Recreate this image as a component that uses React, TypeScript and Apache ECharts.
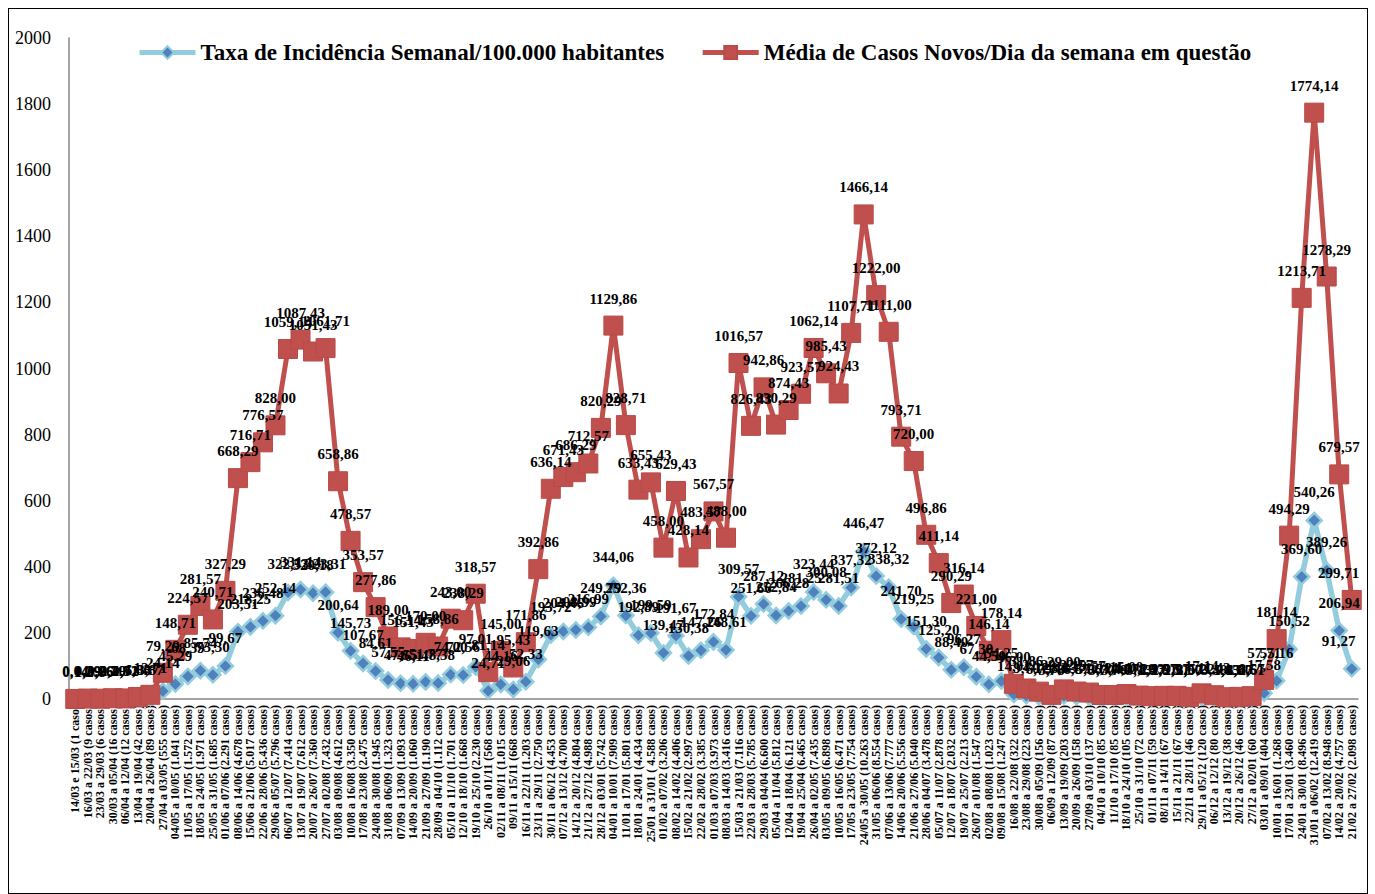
import React, { useEffect, useRef } from "react";
import * as echarts from "echarts";

const categorias: string[] = [
  "14/03 e 15/03 (1 caso)", "16/03 a 22/03 (9 casos)", "23/03 a 29/03 (6 casos)", "30/03 a 05/04 (16 casos)",
  "06/04 a 12/04 (12 casos)", "13/04 a 19/04 (42 casos)", "20/04 a 26/04 (89 casos)", "27/04 a 03/05 (555 casos)",
  "04/05 a 10/05 (1.041 casos)", "11/05 a 17/05 (1.572 casos)", "18/05 a 24/05 (1.971 casos)", "25/05 a 31/05 (1.685 casos)",
  "01/06 a 07/06 (2.291 casos)", "08/06 a 14/06 (4.678 casos)", "15/06 a 21/06 (5.017 casos)", "22/06 a 28/06 (5.436 casos)",
  "29/06 a 05/07 (5.796 casos)", "06/07 a 12/07 (7.414 casos)", "13/07 a 19/07 (7.612 casos)", "20/07 a 26/07 (7.360 casos)",
  "27/07 a 02/08 (7.432 casos)", "03/08 a 09/08 (4.612 casos)", "10/08 a 16/08 (3.350 casos)", "17/08 a 23/08 (2.475 casos)",
  "24/08 a 30/08 (1.945 casos)", "31/08 a 06/09 (1.323 casos)", "07/09 a 13/09 (1.093 casos)", "14/09 a 20/09 (1.060 casos)",
  "21/09 a 27/09 (1.190 casos)", "28/09 a 04/10 (1.112 casos)", "05/10 a 11/10 (1.701 casos)", "12/10 a 18/10 (1.668 casos)",
  "19/10 a 25/10 (2.230 casos)", "26/10 a 01/11 (568 casos)", "02/11 a 08/11 (1.015 casos)", "09/11 a 15/11 (668 casos)",
  "16/11 a 22/11 (1.203 casos)", "23/11 a 29/11 (2.750 casos)", "30/11 a 06/12 (4.453 casos)", "07/12 a 13/12 (4.700 casos)",
  "14/12 a 20/12 (4.804 casos)", "21/12 a 27/12 (4.988 casos)", "28/12 a 03/01 (5.742 casos)", "04/01 a 10/01 (7.909 casos)",
  "11/01 a 17/01 (5.801 casos)", "18/01 a 24/01 (4.434 casos)", "25/01 a 31/01 ( 4.588 casos)", "01/02 a 07/02 (3.206 casos)",
  "08/02 a 14/02 (4.406 casos)", "15/02 a 21/02 (2.997 casos)", "22/02 a 28/02 (3.385 casos)", "01/03 a 07/03 (3.973 casos)",
  "08/03 a 14/03 (3.416 casos)", "15/03 a 21/03 (7.116 casos)", "22/03 a 28/03 (5.785 casos)", "29/03 a 04/04 (6.600 casos)",
  "05/04 a 11/04 (5.812 casos)", "12/04 a 18/04 (6.121 casos)", "19/04 a 25/04 (6.465 casos)", "26/04 a 02/05 (7.435 casos)",
  "03/05 a 09/05 (6.898 casos)", "10/05 a 16/05 (6.471 casos)", "17/05 a 23/05 (7.754 casos)", "24/05 a 30/05 (10.263 casos)",
  "31/05 a 06/06 (8.554 casos)", "07/06 a 13/06 (7.777 casos)", "14/06 a 20/06 (5.556 casos)", "21/06 a 27/06 (5.040 casos)",
  "28/06 a 04/07 (3.478 casos)", "05/07 a 11/07 (2.878 casos)", "12/07 a 18/07 (2.032 casos)", "19/07 a 25/07 (2.213 casos)",
  "26/07 a 01/08 (1.547 casos)", "02/08 a 08/08 (1.023 casos)", "09/08 a 15/08 (1.247 casos)", "16/08 a 22/08 (322 casos)",
  "23/08 a 29/08 (223 casos)", "30/08 a 05/09 (156 casos)", "06/09 a 12/09 (87 casos)", "13/09 a 19/09 (203 casos)",
  "20/09 a 26/09 (158 casos)", "27/09 a 03/10 (137 casos)", "04/10 a 10/10 (85 casos)", "11/10 a 17/10 (85 casos)",
  "18/10 a 24/10 (105 casos)", "25/10 a 31/10 (72 casos)", "01/11 a 07/11 (59 casos)", "08/11 a 14/11 (67 casos)",
  "15/11 a 21/11 (67 casos)", "22/11 a 28/11 (46 casos)", "29/11 a 05/12 (120 casos)", "06/12 a 12/12 (80 casos)",
  "13/12 a 19/12 (38 casos)", "20/12 a 26/12 (46 casos)", "27/12 a 02/01 (60 casos)", "03/01 a 09/01 (404 casos)",
  "10/01 a 16/01 (1.268 casos)", "17/01 a 23/01 (3.460 casos)", "24/01 a 30/01 (8.496 casos)", "31/01 a 06/02 (12.419 casos)",
  "07/02 a 13/02 (8.948 casos)", "14/02 a 20/02 (4.757 casos)", "21/02 a 27/02 (2.098 casos)",
];

const taxaIncidencia: number[] = [
  0.04, 0.39, 0.26, 0.7, 0.52, 1.83, 3.87, 24.14,
  45.29, 68.39, 85.74, 73.3, 99.67, 203.51, 218.25, 236.48,
  252.14, 322.53, 331.14, 320.18, 323.31, 200.64, 145.73, 107.67,
  84.61, 57.55, 47.55, 46.11, 51.77, 48.38, 74.0, 72.56,
  97.01, 24.71, 44.16, 29.06, 52.33, 119.63, 193.72, 204.46,
  208.99, 216.99, 249.79, 344.06, 252.36, 192.89, 199.59, 139.47,
  191.67, 130.38, 147.26, 172.84, 148.61, 309.57, 251.66, 287.12,
  252.84, 266.28, 281.25, 323.44, 300.08, 281.51, 337.32, 446.47,
  372.12, 338.32, 241.7, 219.25, 151.3, 125.2, 88.4, 96.27,
  67.3, 44.5, 54.25, 14.01, 9.7, 6.79, 3.78, 8.83,
  6.87, 5.96, 3.7, 3.7, 4.57, 3.13, 2.57, 2.91,
  2.91, 2.0, 5.22, 3.48, 1.65, 2.0, 2.61, 17.58,
  55.16, 150.52, 369.6, 540.26, 389.26, 206.94, 91.27,
];

const mediaCasos: number[] = [
  0.14, 1.29, 0.86, 2.29, 1.71, 6.0, 12.71, 79.29,
  148.71, 224.57, 281.57, 240.71, 327.29, 668.29, 716.71, 776.57,
  828.0, 1059.14, 1087.43, 1051.43, 1061.71, 658.86, 478.57, 353.57,
  277.86, 189.0, 156.14, 151.43, 170.0, 158.86, 243.0, 238.29,
  318.57, 81.14, 145.0, 95.43, 171.86, 392.86, 636.14, 671.43,
  686.29, 712.57, 820.29, 1129.86, 828.71, 633.43, 655.43, 458.0,
  629.43, 428.14, 483.57, 567.57, 488.0, 1016.57, 826.43, 942.86,
  830.29, 874.43, 923.57, 1062.14, 985.43, 924.43, 1107.71, 1466.14,
  1222.0, 1111.0, 793.71, 720.0, 496.86, 411.14, 290.29, 316.14,
  221.0, 146.14, 178.14, 46.0, 31.86, 22.29, 12.43, 29.0,
  22.57, 19.57, 12.14, 12.14, 15.0, 10.29, 8.43, 9.57,
  9.57, 6.57, 17.14, 11.43, 5.43, 6.57, 8.57, 57.71,
  181.14, 494.29, 1213.71, 1774.14, 1278.29, 679.57, 299.71,
];

const nomeTaxa = "Taxa de Incidência Semanal/100.000 habitantes";
const nomeMedia = "Média de Casos Novos/Dia da semana em questão";

const FONT = "'Liberation Serif', 'Times New Roman', serif";
const fmt = (p: any) => Number(p.value).toFixed(2).replace(".", ",");

// label data: last point label nudged left so it stays inside the frame
const comRotulos = (vals: number[]) =>
  vals.map((v, i) =>
    i === vals.length - 1 ? { value: v, label: { offset: [-13, 0] } } : v
  );

export default function App() {
  const ref = useRef<HTMLDivElement>(null);
  useEffect(() => {
    if (!ref.current) return;
    const chart = echarts.init(ref.current, undefined, { renderer: "svg" });
    const labelStyle = {
      show: true,
      position: "top" as const,
      formatter: fmt,
      fontFamily: FONT,
      fontWeight: "bold" as const,
      fontSize: 15,
      color: "#000",
    };
    chart.setOption({
      animation: false,
      backgroundColor: "#fff",
      legend: {
        data: [nomeTaxa, nomeMedia],
        left: 123,
        top: 27,
        itemWidth: 56,
        itemHeight: 16,
        itemGap: 36,
        lineStyle: { width: 5 },
        textStyle: { fontFamily: FONT, fontWeight: "bold", fontSize: 23, color: "#000" },
      },
      grid: { left: 60, right: 9, top: 29, bottom: 194, containLabel: false },
      xAxis: {
        type: "category",
        data: categorias,
        boundaryGap: true,
        axisLine: { show: true, lineStyle: { color: "#868686", width: 1.5 } },
        axisTick: { show: false },
        axisLabel: {
          interval: 0,
          rotate: 90,
          margin: 6,
          fontFamily: FONT,
          fontWeight: "bold",
          fontSize: 12,
          color: "#000",
        },
      },
      yAxis: {
        type: "value",
        min: 0,
        max: 2000,
        interval: 200,
        splitLine: { show: false },
        axisLine: { show: true, lineStyle: { color: "#868686", width: 1.5 } },
        axisTick: { show: false },
        axisLabel: {
          margin: 18,
          fontFamily: FONT,
          fontSize: 18,
          color: "#000",
          formatter: (v: number) => String(v),
        },
      },
      series: [
        {
          name: nomeTaxa,
          type: "line",
          data: taxaIncidencia,
          symbol: "diamond",
          symbolSize: 15,
          showAllSymbol: true,
          lineStyle: { color: "#93CDDD", width: 5.5 },
          itemStyle: { color: "#4F81BD", borderColor: "#93CDDD", borderWidth: 2.5 },
          z: 2,
        },
        {
          name: nomeMedia,
          type: "line",
          data: mediaCasos,
          symbol: "rect",
          symbolSize: 19,
          showAllSymbol: true,
          lineStyle: { color: "#C0504D", width: 5 },
          itemStyle: { color: "#C0504D", borderColor: "#B94A47", borderWidth: 1 },
          z: 3,
        },
        {
          name: "rotulosTaxa",
          type: "line",
          data: comRotulos(taxaIncidencia),
          symbol: "circle",
          symbolSize: 1,
          showAllSymbol: true,
          lineStyle: { opacity: 0 },
          itemStyle: { color: "rgba(0,0,0,0)" },
          silent: true,
          label: { ...labelStyle, distance: 20 },
          z: 10,
        },
        {
          name: "rotulosMedia",
          type: "line",
          data: comRotulos(mediaCasos),
          symbol: "circle",
          symbolSize: 1,
          showAllSymbol: true,
          lineStyle: { opacity: 0 },
          itemStyle: { color: "rgba(0,0,0,0)" },
          silent: true,
          label: { ...labelStyle, distance: 19 },
          z: 10,
        },
      ],
    });
    return () => chart.dispose();
  }, []);
  return (
    <div
      style={{
        position: "absolute",
        left: 8,
        top: 8,
        width: 1360,
        height: 886,
        boxSizing: "border-box",
        border: "1px solid #000",
        background: "#fff",
      }}
    >
      <div ref={ref} style={{ width: 1358, height: 884 }} />
    </div>
  );
}
